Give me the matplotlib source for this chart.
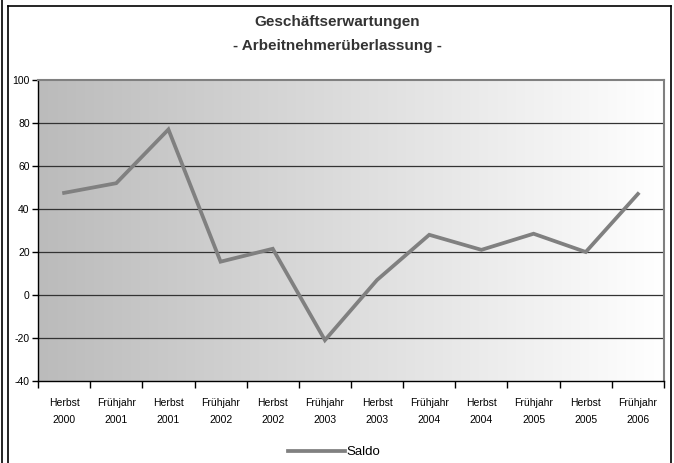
import numpy as np
import matplotlib
matplotlib.use("Agg")
import matplotlib.pyplot as plt
from matplotlib.lines import Line2D

# Umfragewerte Saldo
perioden = ["Herbst\n2000", "Frühjahr\n2001", "Herbst\n2001", "Frühjahr\n2002",
            "Herbst\n2002", "Frühjahr\n2003", "Herbst\n2003", "Frühjahr\n2004",
            "Herbst\n2004", "Frühjahr\n2005", "Herbst\n2005", "Frühjahr\n2006"]
saldo = [47.5, 52, 77, 15.5, 21.5, -21, 7, 28, 21, 28.5, 20, 47]
y_ticks = [-40, -20, 0, 20, 40, 60, 80, 100]

plt.rcParams['font.family'] = ['Liberation Sans', 'DejaVu Sans']

fig = plt.figure(figsize=(6.74, 4.63), dpi=100)
W, H = 674, 463

# Rahmen um das Diagramm (doppelte Linie links)
def fline(x0, y0, x1, y1, lw=1.2):
    fig.add_artist(Line2D([x0 / W, x1 / W], [1 - y0 / H, 1 - y1 / H],
                          color='black', lw=lw, transform=fig.transFigure))

fline(2, 0, 2, H)
fline(7.5, 6, 7.5, H)
fline(7.5, 6, 671, 6)
fline(671, 6, 671, H)

ax = fig.add_axes([38 / W, (H - 381) / H, (664 - 38) / W, (381 - 80) / H])

# Hintergrund: Verlauf von grau nach weiss
grad = np.linspace(0, 1, 256).reshape(1, -1)
ax.imshow(grad, cmap=matplotlib.colors.LinearSegmentedColormap.from_list(
    'bg', ['#bbbbbb', '#ffffff']), aspect='auto', extent=[0, 1, 0, 1],
    transform=ax.transAxes, zorder=0)

x = np.arange(len(saldo))
ax.plot(x, saldo, color='#808080', lw=2.7, zorder=3, solid_joinstyle='miter',
        label='Saldo')

ax.set_xlim(-0.5, len(saldo) - 0.5)
ax.set_ylim(-40, 100)
ax.set_yticks(y_ticks)
ax.set_yticklabels([str(v) for v in y_ticks], fontsize=7.5)
for v in y_ticks[1:-1]:
    ax.axhline(v, color='#333333', lw=0.9, zorder=2)

ax.set_xticks(np.arange(len(saldo) + 1) - 0.5)
ax.set_xticklabels([])
ax.set_xticks(x, minor=True)
ax.set_xticklabels(perioden, minor=True, fontsize=7.5, linespacing=1.9)
ax.tick_params(axis='x', which='minor', length=0, pad=12)
ax.tick_params(axis='x', which='major', length=5, width=1, direction='out')
ax.tick_params(axis='y', length=4, width=1, direction='out', pad=2)

ax.spines['left'].set_color('black')
ax.spines['bottom'].set_color('black')
ax.spines['left'].set_linewidth(1.0)
ax.spines['bottom'].set_linewidth(1.0)
ax.spines['top'].set_color('#808080')
ax.spines['right'].set_color('#808080')
ax.spines['top'].set_linewidth(1.5)
ax.spines['right'].set_linewidth(1.5)

fig.text(0.5, 1 - 22 / H, "Geschäftserwartungen", ha='center', va='center',
         fontsize=11, fontweight='bold', color='#333333')
fig.text(0.5, 1 - 46 / H, "- Arbeitnehmerüberlassung -", ha='center', va='center',
         fontsize=11, fontweight='bold', color='#333333')

fig.legend(loc='center', bbox_to_anchor=(334 / W, 1 - 452 / H), frameon=False,
           fontsize=9.5, handlelength=4.3, handletextpad=0.1)

fig.savefig("out.png", dpi=100)
